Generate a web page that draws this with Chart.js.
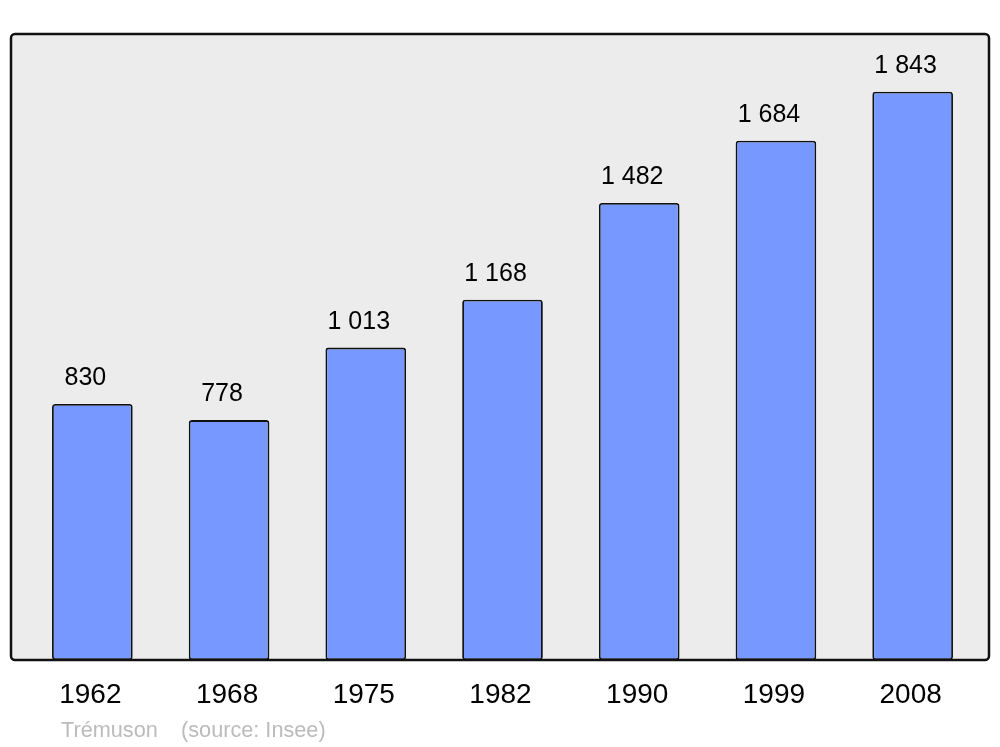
<!DOCTYPE html>
<html>
<head>
<meta charset="utf-8">
<script src="https://cdn.jsdelivr.net/npm/chart.js@4"></script>
<style>
  html, body { margin: 0; padding: 0; background: #fff; }
  #wrap { width: 1000px; height: 747px; }
</style>
</head>
<body>
<div id="wrap"><canvas id="popChart" width="1000" height="747"></canvas></div>
<script>
// données
const annees = ["1962", "1968", "1975", "1982", "1990", "1999", "2008"];
const population = [830, 778, 1013, 1168, 1482, 1684, 1843];
const commune = "Trémuson";
const source = "(source: Insee)";

const fmt = v => String(v).replace(/\B(?=(\d{3})+(?!\d))/g, " ");

// cadre gris arrondi
const cadre = {
  id: "cadre",
  beforeDatasetsDraw(chart) {
    const c = chart.ctx;
    c.save();
    c.beginPath();
    c.roundRect(11, 34, 978, 626, 4);
    c.fillStyle = "#ececec";
    c.fill();
    c.restore();
  },
  afterDatasetsDraw(chart) {
    const c = chart.ctx;
    c.save();
    c.beginPath();
    c.roundRect(11, 34, 978, 626, 4);
    c.lineWidth = 2.5;
    c.strokeStyle = "#111";
    c.stroke();

    // valeurs au-dessus des barres
    const meta = chart.getDatasetMeta(0);
    c.font = "25px 'Liberation Sans', Arial, sans-serif";
    c.fillStyle = "#000";
    c.textAlign = "center";
    c.textBaseline = "alphabetic";
    meta.data.forEach((bar, i) => {
      c.fillText(fmt(population[i]), bar.x - 7, bar.y - 19);
    });

    // pied de page
    c.font = "21.7px 'Liberation Sans', Arial, sans-serif";
    c.fillStyle = "#bbbbbb";
    c.textAlign = "left";
    c.fillText(commune, 61, 737);
    c.fillText(source, 181, 737);
    c.restore();
  }
};

new Chart(document.getElementById("popChart"), {
  type: "bar",
  data: {
    labels: annees,
    datasets: [{
      data: population,
      backgroundColor: "#7799ff",
      borderColor: "#111",
      borderWidth: 1.8,
      borderRadius: 3,
      borderSkipped: false,
      categoryPercentage: 1,
      barPercentage: 0.59
    }]
  },
  options: {
    responsive: false,
    animation: false,
    layout: { padding: { left: 24, right: 19, top: 34, bottom: 0 } },
    plugins: { legend: { display: false }, tooltip: { enabled: false } },
    scales: {
      x: {
        grid: { display: false, drawTicks: false },
        border: { display: false },
        ticks: {
          color: "#000",
          padding: 18,
          labelOffset: -2,
          font: { size: 28, family: "'Liberation Sans', Arial, sans-serif" }
        },
        afterFit(scale) { scale.height = 87; }
      },
      y: {
        display: false,
        min: 0,
        max: 2030
      }
    }
  },
  plugins: [cadre]
});
</script>
</body>
</html>
